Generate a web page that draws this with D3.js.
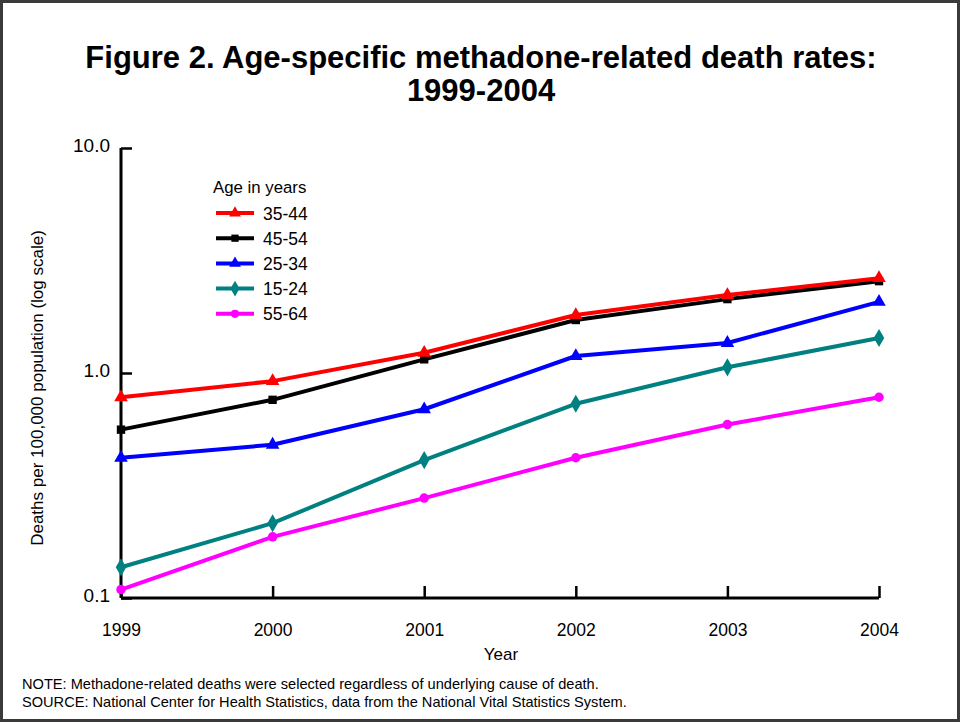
<!DOCTYPE html>
<html><head><meta charset="utf-8">
<script src="https://cdn.jsdelivr.net/npm/d3@7"></script>
<style>
html,body{margin:0;padding:0;background:#fff;}
svg{display:block;font-family:"Liberation Sans",Arial,Helvetica,sans-serif;}
</style></head>
<body>
<svg id="chart" width="960" height="722"></svg>
<script>
const years = [1999, 2000, 2001, 2002, 2003, 2004];
const seriesNames = ["35-44", "45-54", "25-34", "15-24", "55-64"];
const seriesColors = ["#ff0000", "#000000", "#0000ff", "#008080", "#ff00ff"];
const seriesSymbols = ["triangle", "square", "triangle", "diamond", "circle"];
const v3544 = [0.78, 0.92, 1.23, 1.81, 2.22, 2.64];
const v4554 = [0.56, 0.76, 1.15, 1.72, 2.13, 2.56];
const v2534 = [0.42, 0.48, 0.69, 1.19, 1.36, 2.07];
const v1524 = [0.137, 0.215, 0.41, 0.73, 1.06, 1.43];
const v5564 = [0.109, 0.187, 0.278, 0.42, 0.59, 0.78];
const yTicks = [0.1, 1, 10];
const yTickLabels = ["0.1", "1.0", "10.0"];
const seriesValues = [v3544, v4554, v2534, v1524, v5564];

const svg = d3.select("#chart");
const W = 960, H = 722;
const m = {left: 121, right: 81, top: 148, bottom: 124};

svg.append("rect").attr("x",1.5).attr("y",1.5).attr("width",W-3).attr("height",H-3)
  .attr("fill","#fff").attr("stroke","#3a3a3a").attr("stroke-width",3);

const x = d3.scaleLinear().domain([1999, 2004]).range([m.left, W - m.right]);
const y = d3.scaleLog().domain([0.1, 10]).range([H - m.bottom, m.top]);

// title
const title = svg.append("text").attr("text-anchor","middle")
  .attr("font-weight","bold").attr("font-size",31).attr("fill","#000");
title.append("tspan").attr("x",481).attr("y",68).text("Figure 2. Age-specific methadone-related death rates:");
title.append("tspan").attr("x",481).attr("y",101).text("1999-2004");

// axes
const xAxis = d3.axisBottom(x).tickValues(years).tickFormat(d3.format("d")).tickSize(-12).tickPadding(26);
const gx = svg.append("g").attr("transform",`translate(0,${H - m.bottom})`).call(xAxis);
gx.select(".domain").attr("stroke","#000").attr("stroke-width",3).attr("d",`M${m.left},0H${W-m.right}`);
gx.selectAll(".tick line").attr("stroke","#000").attr("stroke-width",2.5);
gx.selectAll(".tick text").attr("font-size",17.5).attr("fill","#000").attr("font-family","Liberation Sans, Arial, sans-serif");

const yAxis = d3.axisLeft(y).tickValues(yTicks).tickFormat((d,i)=>yTickLabels[i]).tickSize(-11).tickPadding(11);
const gy = svg.append("g").attr("transform",`translate(${m.left},0)`).call(yAxis);
gy.select(".domain").attr("stroke","#000").attr("stroke-width",3).attr("d",`M0,${H-m.bottom}V${m.top}`);
gy.selectAll(".tick line").attr("stroke","#000").attr("stroke-width",2.5);
gy.selectAll(".tick text").attr("font-size",19).attr("fill","#000").attr("dy","0.2em").attr("font-family","Liberation Sans, Arial, sans-serif");

// axis titles
svg.append("text").attr("x",501).attr("y",660).attr("text-anchor","middle").attr("font-size",17).text("Year");
svg.append("text").attr("transform","translate(43,388) rotate(-90)").attr("text-anchor","middle")
  .attr("font-size",17).text("Deaths per 100,000 population (log scale)");

// lines
const symbolType = {triangle: d3.symbolTriangle, square: d3.symbolSquare, diamond: d3.symbolDiamond, circle: d3.symbolCircle};
const symbolSize = {triangle: 80, square: 70, diamond: 95, circle: 70};
const line = d3.line().x((d,i)=>x(years[i])).y(d=>y(d));

// draw in reverse so first series is on top
for (let s = seriesValues.length - 1; s >= 0; s--) {
  const g = svg.append("g");
  g.append("path").datum(seriesValues[s]).attr("d", line).attr("fill","none")
    .attr("stroke", seriesColors[s]).attr("stroke-width",4).attr("stroke-linejoin","round");
  g.selectAll("path.sym").data(seriesValues[s]).enter().append("path").attr("class","sym")
    .attr("transform",(d,i)=>`translate(${x(years[i])},${y(d)})`)
    .attr("d", d3.symbol().type(symbolType[seriesSymbols[s]]).size(symbolSize[seriesSymbols[s]]))
    .attr("fill", seriesColors[s]);
}

// legend
const lg = svg.append("g");
lg.append("text").attr("x",213).attr("y",193).attr("font-size",16.8).text("Age in years");
seriesNames.forEach((n,i)=>{
  const yy = 213 + i*25.2;
  lg.append("line").attr("x1",216).attr("x2",254).attr("y1",yy).attr("y2",yy)
    .attr("stroke",seriesColors[i]).attr("stroke-width",4);
  lg.append("path").attr("transform",`translate(235,${yy})`)
    .attr("d", d3.symbol().type(symbolType[seriesSymbols[i]]).size(symbolSize[seriesSymbols[i]]*0.75))
    .attr("fill",seriesColors[i]);
  lg.append("text").attr("x",263).attr("y",yy+6.5).attr("font-size",17.5).text(n);
});

// notes
svg.append("text").attr("x",22).attr("y",689).attr("font-size",14.6).text("NOTE: Methadone-related deaths were selected regardless of underlying cause of death.");
svg.append("text").attr("x",22).attr("y",707).attr("font-size",14.6).text("SOURCE: National Center for Health Statistics, data from the National Vital Statistics System.");
</script>
</body></html>
